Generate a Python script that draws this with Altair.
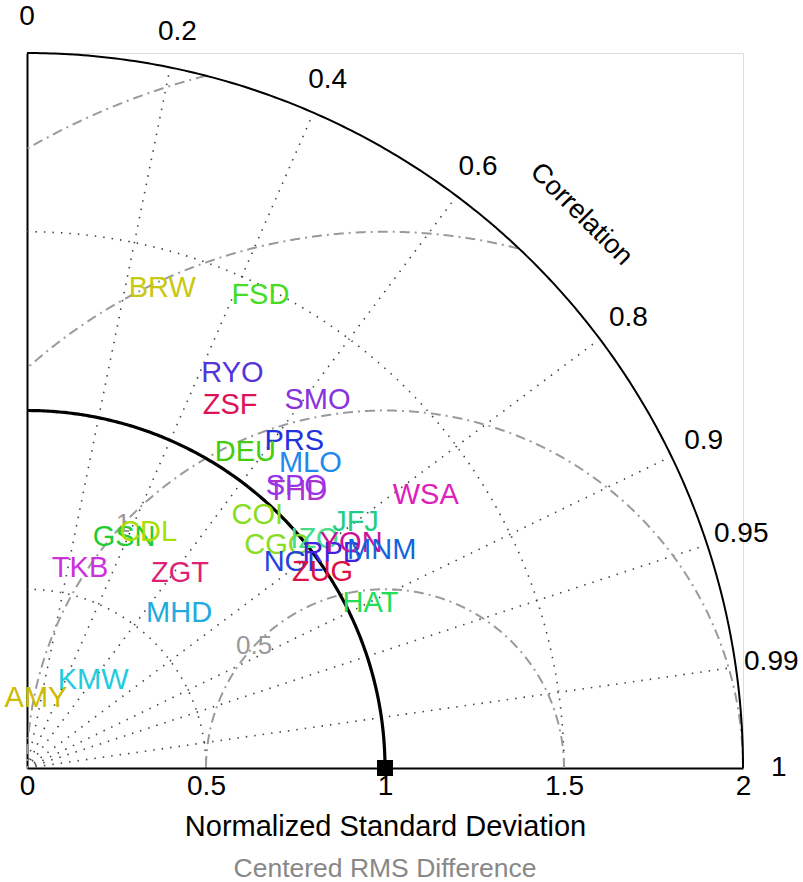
import altair as alt
import numpy as np
import pandas as pd

# ---------------- data ----------------
stations = ["BRW", "FSD", "RYO", "ZSF", "SMO", "PRS", "DEU", "MLO", "THD", "SPO",
            "WSA", "COI", "GSN", "CDL", "TKB", "ZGT", "MHD", "KMW", "AMY", "CGO",
            "IZO", "JFJ", "NGL", "RPB", "YON", "MNM", "ZUG", "HAT"]
norm_std = [1.395, 1.475, 1.245, 1.163, 1.311, 1.181, 1.074, 1.164, 1.082, 1.090,
            1.350, 0.956, 0.701, 0.742, 0.579, 0.693, 0.607, 0.308, 0.197, 0.937,
            1.027, 1.147, 0.941, 1.044, 1.103, 1.163, 0.991, 1.065]
correl = [0.271, 0.442, 0.461, 0.488, 0.619, 0.632, 0.568, 0.680, 0.698, 0.690,
          0.825, 0.673, 0.387, 0.456, 0.256, 0.617, 0.700, 0.600, 0.127, 0.746,
          0.782, 0.800, 0.791, 0.817, 0.821, 0.852, 0.833, 0.901]
colors = ["#c8c810", "#44dd22", "#5533dd", "#dd1155", "#8833dd", "#2233dd", "#44cc11",
          "#2288ee", "#aa33cc", "#9933ee", "#dd22bb", "#88dd22", "#22cc33", "#aadd00",
          "#cc33dd", "#dd2277", "#22aadd", "#22ccdd", "#ccbb00", "#88dd22", "#44dd88",
          "#22cc88", "#2244dd", "#4422dd", "#cc1199", "#1166dd", "#dd1144", "#22dd55"]

corr_ticks = [0, 0.2, 0.4, 0.6, 0.8, 0.9, 0.95, 0.99, 1]
corr_grid = [0.2, 0.4, 0.6, 0.8, 0.9, 0.95, 0.99]
std_ticks = [0, 0.5, 1, 1.5, 2]
std_dotted = [0.5, 1.5]
rms_levels = [0.5, 1, 1.5, 2]
ref_std = [1.0]
max_std = 2.0

FONT = "Liberation Sans"

# ---------------- derived tables ----------------
def polar(s, c):
    s = np.asarray(s, float)
    c = np.asarray(c, float)
    return s * c, s * np.sqrt(np.clip(1 - c ** 2, 0, None))

theta = np.linspace(0, np.pi / 2, 241)

def arcs(levels):
    rows = []
    for k, s in enumerate(levels):
        for i, t in enumerate(theta):
            rows.append({"x": s * np.cos(t), "y": s * np.sin(t), "g": k, "i": i})
    return pd.DataFrame(rows)

df_std_dot = arcs(std_dotted)
df_ref_arc = arcs(ref_std)
df_outer = arcs([max_std])

rows = []
for k, c in enumerate(corr_grid):
    for i, r in enumerate([0.0, max_std * 0.995]):
        x, y = polar(r, c)
        rows.append({"x": float(x), "y": float(y), "g": k, "i": i})
df_corr = pd.DataFrame(rows)

rows = []
phi = np.linspace(0, np.pi, 1441)
for k, e in enumerate(rms_levels):
    x = ref_std[0] + e * np.cos(phi)
    y = e * np.sin(phi)
    ok = (x >= 0) & (x ** 2 + y ** 2 <= max_std ** 2 + 1e-9)
    for i, (xx, yy) in enumerate(zip(x[ok], y[ok])):
        rows.append({"x": xx, "y": yy, "g": k, "i": i})
df_rms = pd.DataFrame(rows)

ang = np.deg2rad(137)
rms_lab = pd.DataFrame({"x": ref_std[0] + np.array(rms_levels) * np.cos(ang),
                        "y": np.array(rms_levels) * np.sin(ang),
                        "t": [("%g" % v) for v in rms_levels]})
rms_lab = rms_lab[rms_lab["x"] > 0.02]

tx, ty = polar(np.full(len(corr_ticks), 2.1), corr_ticks)
df_ctick = pd.DataFrame({"x": tx, "y": ty, "t": [("%g" % v) for v in corr_ticks]})

cx, cy = polar(2.19, np.cos(np.pi / 4))
df_ctitle = pd.DataFrame({"x": [float(cx)], "y": [float(cy)], "t": ["Correlation"]})

sx, sy = polar(norm_std, correl)
df_st = pd.DataFrame({"x": sx, "y": sy, "t": stations, "c": colors})

df_ref = pd.DataFrame({"x": ref_std, "y": [0.0]})

# ---------------- encodings ----------------
xs = alt.Scale(domain=[0, max_std], nice=False, zero=False)
ys = alt.Scale(domain=[0, max_std], nice=False, zero=False)
x_enc = alt.X("x:Q", scale=xs, axis=alt.Axis(
    values=std_ticks, format="~g", title="Normalized Standard Deviation",
    labelFontSize=28, titleFontSize=29, labelFont=FONT, titleFont=FONT,
    labelFlush=False, ticks=False, grid=False, domainColor="black", domainWidth=2,
    labelPadding=4, titlePadding=12, titleFontWeight="normal",
    labelColor="black", titleColor="black"))
y_enc = alt.Y("y:Q", scale=ys, axis=alt.Axis(
    labels=False, ticks=False, grid=False, title="", domainColor="black", domainWidth=2))


def line_layer(df, stroke, width, dash=None):
    kw = dict(stroke=stroke, strokeWidth=width, clip=False)
    if dash is not None:
        kw["strokeDash"] = dash
    return alt.Chart(df).mark_line(**kw).encode(
        x=x_enc, y=y_enc, detail="g:N", order="i:Q")


l_std = line_layer(df_std_dot, "#444444", 1.6, [1.5, 7])
l_corr = line_layer(df_corr, "#444444", 1.6, [1.5, 7])
l_rms = line_layer(df_rms, "#9a9a9a", 2, [10, 5, 2, 5])
l_ref = line_layer(df_ref_arc, "black", 3.2)
l_out = line_layer(df_outer, "black", 2)

t_rms = alt.Chart(rms_lab).mark_text(font=FONT, fontSize=26, color="#999999",
                                     align="center", baseline="middle").encode(
    x=x_enc, y=y_enc, text="t:N")
t_ctick = alt.Chart(df_ctick).mark_text(font=FONT, fontSize=28, color="black",
                                        align="center", baseline="middle").encode(
    x=x_enc, y=y_enc, text="t:N")
t_ctitle = alt.Chart(df_ctitle).mark_text(font=FONT, fontSize=27, color="black",
                                          align="center", baseline="middle", angle=45).encode(
    x=x_enc, y=y_enc, text="t:N")
t_st = alt.Chart(df_st).mark_text(font=FONT, fontSize=29, align="center",
                                  baseline="middle").encode(
    x=x_enc, y=y_enc, text="t:N", color=alt.Color("c:N", scale=None))
m_ref = alt.Chart(df_ref).mark_square(size=256, color="black", filled=True,
                                      opacity=1, clip=False).encode(x=x_enc, y=y_enc)

chart = alt.layer(l_std, l_corr, l_rms, l_ref, l_out, t_rms, t_ctick, t_ctitle,
                  t_st, m_ref).properties(
    width=716, height=715,
    padding={"left": 27, "top": 53, "right": 60, "bottom": 114},
    autosize=alt.AutoSizeParams(type="none"),
    title=alt.TitleParams("Centered RMS Difference", orient="bottom", color="#888888",
                          fontSize=26.5, fontWeight="normal", font=FONT, offset=15),
).configure_view(stroke="transparent").configure(background="white")

chart.save("out.html", embed_options={"renderer": "svg", "actions": False})
